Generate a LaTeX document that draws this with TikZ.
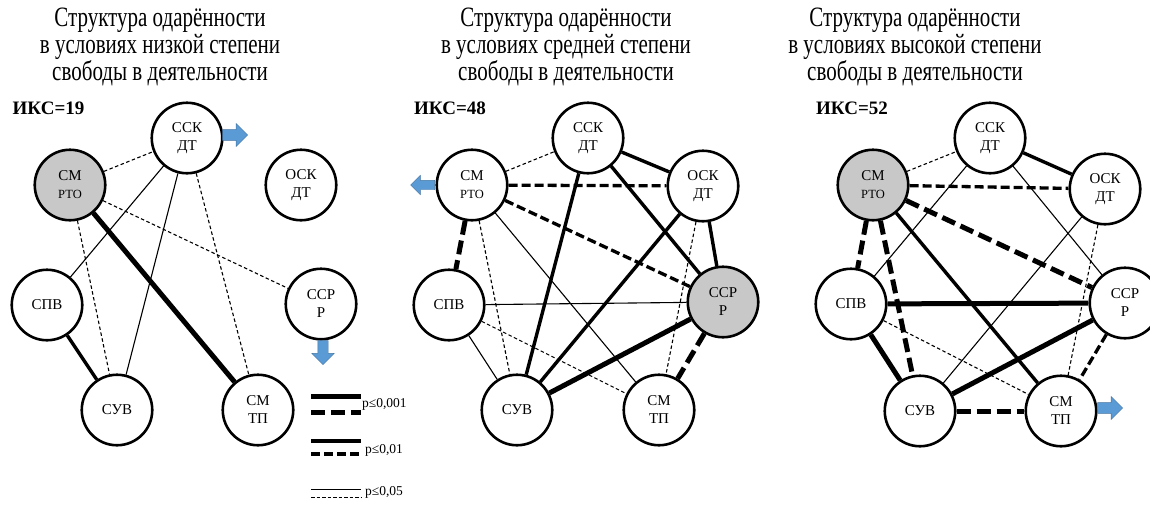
\documentclass[tikz,border=0pt]{standalone}
\usepackage{fontspec}
\setmainfont{Liberation Serif}
\newfontfamily\titlefont[FakeStretch=0.75]{Liberation Serif}
\usetikzlibrary{shapes.arrows,backgrounds}
\definecolor{nodegray}{RGB}{200,200,200}
\definecolor{arrowblue}{RGB}{91,155,213}
\tikzset{
  gnode/.style={circle, draw=black, line width=2.6pt, minimum size=70.5pt, inner sep=0pt,
    fill=white, align=center, font=\fontsize{15}{18}\selectfont},
  gfill/.style={fill=nodegray},
  ttl/.style={anchor=base, inner sep=0pt, font=\titlefont\fontsize{28}{28}\selectfont},
  iks/.style={inner sep=0pt, font=\bfseries\fontsize{19}{22}\selectfont},
  barrow/.style={single arrow, fill=arrowblue, draw=arrowblue!75!black, line width=0.4pt,
    minimum height=25pt, minimum width=23pt, inner sep=5pt, single arrow head extend=6pt,
    single arrow head indent=0pt},
  pA/.style={line width=5pt},
  pB/.style={line width=5pt, dash pattern=on 14pt off 6pt},
  pC/.style={line width=3.4pt},
  pD/.style={line width=3.3pt, dash pattern=on 9pt off 4pt},
  pE/.style={line width=1.1pt},
  pF/.style={line width=1.1pt, dash pattern=on 3.5pt off 2.5pt},
  leg/.style={anchor=west, inner sep=0pt, font=\fontsize{13.5}{15}\selectfont},
}
\newcommand{\smallrto}{{\fontsize{12.5}{14}\selectfont РТО}}
\begin{document}
\begin{tikzpicture}[x=1pt,y=-1pt]
\useasboundingbox (0,0) rectangle (1150,504);

% ---------- titles ----------
\node[ttl] (t1a) at (160,26) {Структура одарённости};
\node[ttl] (t1b) at (160,53.5) {в условиях низкой степени};
\node[ttl] (t1c) at (160,80.5) {свободы в деятельности};
\node[ttl] (t2a) at (566,26) {Структура одарённости};
\node[ttl] (t2b) at (566,53.5) {в условиях средней степени};
\node[ttl] (t2c) at (566,80.5) {свободы в деятельности};
\node[ttl] (t3a) at (915,26) {Структура одарённости};
\node[ttl] (t3b) at (915,53.5) {в условиях высокой степени};
\node[ttl] (t3c) at (915,80.5) {свободы в деятельности};

\node[iks] (iks1) at (48.5,108) {ИКС=19};
\node[iks] (iks2) at (450,108) {ИКС=48};
\node[iks] (iks3) at (852,108) {ИКС=52};

% ---------- left diagram ----------
\node[gnode] (Ka) at (187,138) {ССК\\ДТ};
\node[gnode,gfill] (Ra) at (70,185) {СМ\\\smallrto};
\node[gnode] (Oa) at (301,185) {ОСК\\ДТ};
\node[gnode] (Va) at (47,305) {СПВ};
\node[gnode] (Pa) at (321,304) {ССР\\Р};
\node[gnode] (Ua) at (117,410) {СУВ};
\node[gnode] (Ta) at (258,410) {СМ\\ТП};
\begin{scope}[on background layer]
\draw[pF] (Ra) -- (Ka);
\draw[pE] (Ka) -- (Va);
\draw[pE] (Ka) -- (Ua);
\draw[pF] (Ka) -- (Ta);
\draw[pA] (Ra) -- (Ta);
\draw[pF] (Ra) -- (Ua);
\draw[pF] (Ra) -- (Pa);
\draw[pC] (Va) -- (Ua);
\end{scope}
\node[barrow] (arrA) at (232.5,135) {};
\node[barrow, rotate=-90, minimum height=24pt, minimum width=21pt] (arrB) at (323,350) {};

% ---------- legend ----------
\coordinate (l1a) at (311,396); \coordinate (l1b) at (361,396);
\coordinate (l2a) at (311,412); \coordinate (l2b) at (361,412);
\coordinate (l3a) at (311,441); \coordinate (l3b) at (361,441);
\coordinate (l4a) at (311,454); \coordinate (l4b) at (361,454);
\coordinate (l5a) at (311,489); \coordinate (l5b) at (361,489);
\coordinate (l6a) at (311,497); \coordinate (l6b) at (361,497);
\draw[pA] (l1a) -- (l1b);
\draw[pB] (l2a) -- (l2b);
\draw[pC] (l3a) -- (l3b);
\draw[pD] (l4a) -- (l4b);
\draw[line width=1pt] (l5a) -- (l5b);
\draw[line width=0.8pt, dash pattern=on 3.5pt off 2pt] (l6a) -- (l6b);
\node[leg] (g1) at (362,404) {p≤0,001};
\node[leg] (g2) at (365,450) {p≤0,01};
\node[leg] (g3) at (365,492) {p≤0,05};

% ---------- middle diagram ----------
\node[gnode] (Kb) at (588,138) {ССК\\ДТ};
\node[gnode] (Rb) at (472,185) {СМ\\\smallrto};
\node[gnode] (Ob) at (703,186) {ОСК\\ДТ};
\node[gnode] (Vb) at (449,305) {СПВ};
\node[gnode,gfill] (Pb) at (723,302) {ССР\\Р};
\node[gnode] (Ub) at (517,410) {СУВ};
\node[gnode] (Tb) at (659,410) {СМ\\ТП};
\begin{scope}[on background layer]
\draw[pF] (Rb) -- (Kb);
\draw[pC] (Kb) -- (Ob);
\draw[pD] (Rb) -- (Ob);
\draw[pD] (Rb) -- (Pb);
\draw[pB] (Rb) -- (Vb);
\draw[pF] (Rb) -- (Ub);
\draw[pE] (Rb) -- (Tb);
\draw[pC] (Kb) -- (Ub);
\draw[pC] (Kb) -- (Pb);
\draw[pC] (Ob) -- (Ub);
\draw[pF] (Ob) -- (Tb);
\draw[pC] (Ob) -- (Pb);
\draw[pE] (Vb) -- (Pb);
\draw[pF] (Vb) -- (Tb);
\draw[pE] (Vb) -- (Ub);
\draw[pA] (Ub) -- (Pb);
\draw[pB] (Pb) -- (Tb);
\end{scope}
\node[barrow, rotate=180, minimum height=24pt, minimum width=19pt, inner sep=4.5pt, single arrow head extend=5pt] (arrC) at (425,185) {};

% ---------- right diagram ----------
\node[gnode] (Kc) at (990,138) {ССК\\ДТ};
\node[gnode,gfill] (Rc) at (873,185) {СМ\\\smallrto};
\node[gnode] (Oc) at (1105,189) {ОСК\\ДТ};
\node[gnode] (Vc) at (851,304) {СПВ};
\node[gnode] (Pc) at (1125,303) {ССР\\Р};
\node[gnode] (Uc) at (920,411) {СУВ};
\node[gnode] (Tc) at (1061,411) {СМ\\ТП};
\begin{scope}[on background layer]
\draw[pF] (Rc) -- (Kc);
\draw[pC] (Kc) -- (Oc);
\draw[pD] (Rc) -- (Oc);
\draw[pB] (Rc) -- (Pc);
\draw[pB] (Rc) -- (Vc);
\draw[pB] (Rc) -- (Uc);
\draw[pC] (Rc) -- (Tc);
\draw[pE] (Kc) -- (Vc);
\draw[pE] (Kc) -- (Pc);
\draw[pE] (Oc) -- (Uc);
\draw[pF] (Oc) -- (Tc);
\draw[pA] (Vc) -- (Pc);
\draw[pA] (Vc) -- (Uc);
\draw[pF] (Vc) -- (Tc);
\draw[pA] (Uc) -- (Pc);
\draw[pB] (Uc) -- (Tc);
\draw[pD] (Pc) -- (Tc);
\end{scope}
\node[barrow] (arrD) at (1107.5,408) {};
\end{tikzpicture}
\end{document}
